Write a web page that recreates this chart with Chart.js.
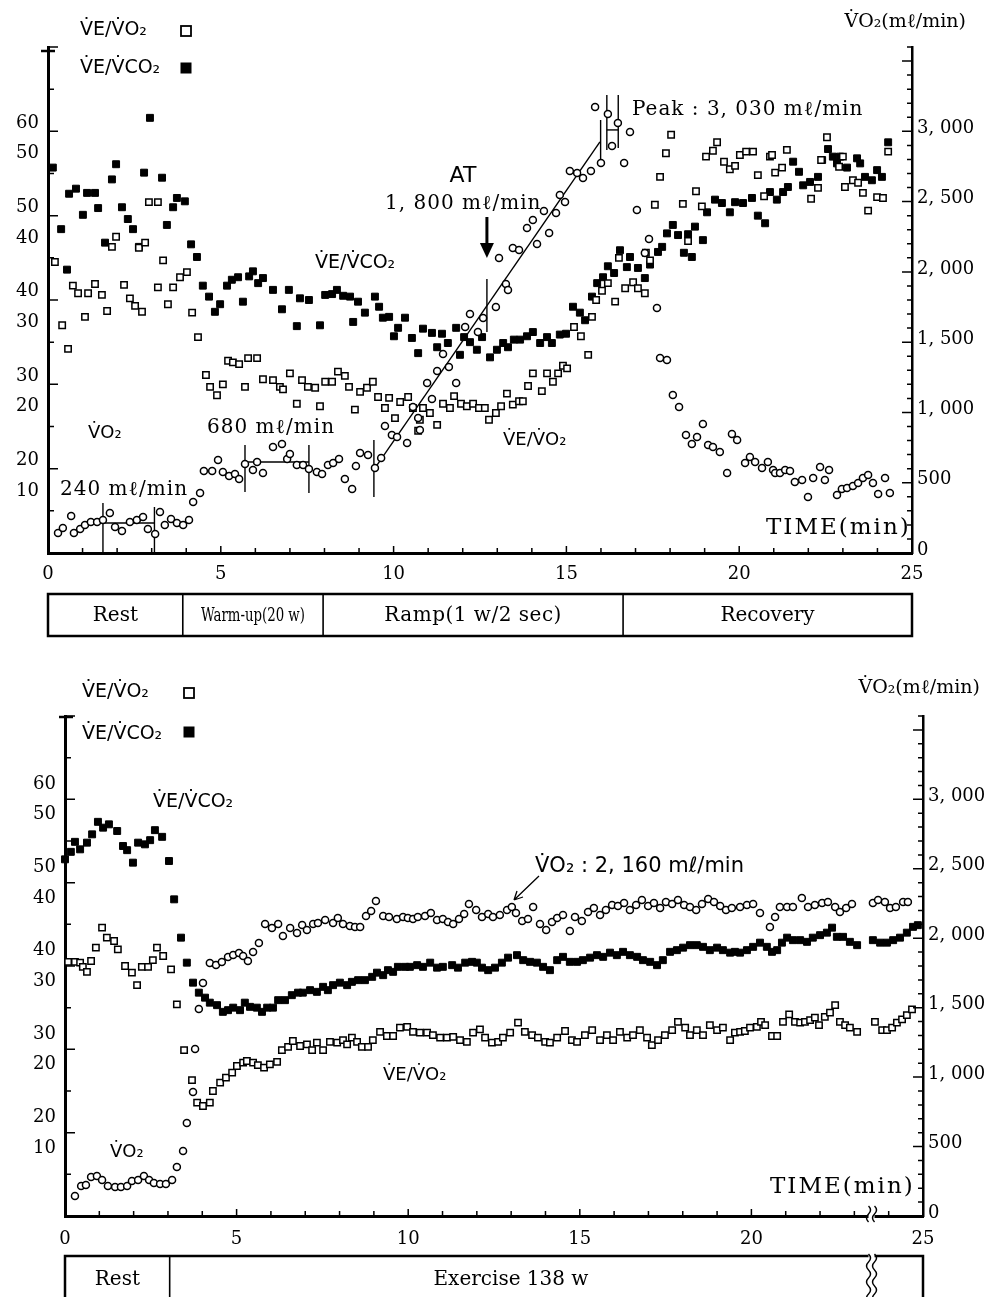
<!DOCTYPE html>
<html>
<head>
<meta charset="utf-8">
<title>VE/VO2, VE/VCO2 and VO2 during exercise</title>
<script src="https://cdn.jsdelivr.net/npm/chart.js@4.4.1/dist/chart.umd.min.js"></script>
<style>
  html, body { margin: 0; padding: 0; background: #fff; }
  #wrap { position: relative; width: 997px; height: 1297px; overflow: hidden; background: #fff; }
  canvas { position: absolute; left: 0; }
  #topChart { top: 0; }
  #bottomChart { top: 650px; }
</style>
</head>
<body>
<div id="wrap">
  <canvas id="topChart" width="997" height="650"></canvas>
  <canvas id="bottomChart" width="997" height="647"></canvas>
</div>
<script>
// ---- axis ticks ----
const timeTickValues = [0, 5, 10, 15, 20, 25];
const ratioTickValues = [10, 20, 30, 40, 50];              // VE/VO2 scale (lower number)
const ratioTickLabels = [['20', '10'], ['30', '20'], ['40', '30'], ['50', '40'], ['60', '50']]; // VE/VCO2 above, VE/VO2 below
const vo2TickValues = [0, 500, 1000, 1500, 2000, 2500, 3000];
const vo2TickLabels = ['0', '500', '1, 000', '1, 500', '2, 000', '2, 500', '3, 000'];

// ---- top panel: ramp test  [time min, value] ----
const topVo2 = [
  [0.29,142],[0.43,178],[0.67,263],[0.75,142],[0.93,171],[1.07,199],[1.24,221],[1.42,221],[1.59,235],[1.79,285],
  [1.94,185],[2.14,157],[2.37,221],[2.57,235],[2.75,256],[2.89,171],[3.10,135],[3.24,292],[3.38,199],[3.56,242],
  [3.73,213],[3.91,199],[4.08,235],[4.20,363],[4.40,427],[4.51,583],[4.75,583],[4.92,662],[5.06,576],[5.24,548],
  [5.41,562],[5.53,527],[5.70,633],[5.93,591],[6.05,647],[6.22,569],[6.51,754],[6.77,776],[6.92,669],[7.00,704],
  [7.20,626],[7.38,626],[7.55,598],[7.78,576],[7.93,562],[8.10,626],[8.25,640],[8.42,669],[8.59,527],[8.80,455],
  [8.91,619],[9.03,712],[9.26,697],[9.46,605],[9.64,676],[9.75,904],[9.95,840],[10.10,825],[10.39,783],[10.56,1039],
  [10.71,961],[10.76,875],[10.97,1210],[11.11,1096],[11.26,1295],[11.43,1416],[11.60,1323],[11.81,1210],[12.07,1608],[12.21,1700],
  [12.44,1572],[12.59,1672],[12.96,1750],[13.05,2099],[13.25,1914],[13.31,1871],[13.45,2170],[13.63,2156],[13.86,2312],[14.03,2369],
  [14.15,2199],[14.35,2433],[14.50,2277],[14.70,2419],[14.81,2547],[14.96,2497],[15.10,2718],[15.31,2704],[15.48,2668],[15.71,2718],
  [15.83,3173],[16.00,2775],[16.20,3123],[16.32,2896],[16.49,3059],[16.67,2775],[16.84,2995],[17.04,2440],[17.27,2135],[17.39,2234],
  [17.62,1743],[17.71,1387],[17.91,1373],[18.08,1124],[18.26,1039],[18.46,840],[18.63,776],[18.78,825],[18.95,918],[19.10,768],
  [19.24,754],[19.44,719],[19.65,569],[19.79,847],[19.94,804],[20.17,640],[20.31,683],[20.46,647],[20.66,605],[20.83,647],
  [20.98,591],[21.04,569],[21.18,569],[21.33,591],[21.47,583],[21.61,505],[21.82,519],[21.99,398],[22.14,534],[22.34,612],
  [22.48,519],[22.60,591],[22.83,413],[22.97,455],[23.12,462],[23.29,477],[23.44,498],[23.58,534],[23.73,555],[23.87,498],
  [24.02,420],[24.22,534],[24.36,427]
];
const topVeVo2 = [
  [0.20,34.5],[0.41,27.0],[0.58,24.2],[0.72,31.7],[0.87,30.8],[1.07,28.0],[1.16,30.8],[1.36,31.9],[1.56,30.6],[1.71,28.7],
  [1.85,36.3],[1.97,37.5],[2.20,31.8],[2.37,30.2],[2.52,29.3],[2.63,36.2],[2.72,28.6],[2.81,36.8],[2.92,41.6],[3.18,41.6],
  [3.18,31.5],[3.33,34.7],[3.47,29.5],[3.62,31.5],[3.82,32.7],[4.02,33.3],[4.17,28.5],[4.34,25.6],[4.57,21.1],[4.69,19.7],
  [4.89,18.7],[5.06,20.0],[5.21,22.8],[5.35,22.6],[5.53,22.4],[5.70,19.7],[5.79,23.1],[6.05,23.1],[6.22,20.6],[6.51,20.5],
  [6.71,19.7],[6.80,19.4],[7.00,21.3],[7.20,17.7],[7.35,20.5],[7.52,19.7],[7.73,19.6],[7.87,17.4],[8.02,20.3],[8.22,20.3],
  [8.39,21.5],[8.59,21.0],[8.71,19.7],[8.88,17.0],[9.03,19.1],[9.23,19.6],[9.40,20.3],[9.55,18.5],[9.75,17.2],[9.87,18.4],
  [10.04,16.0],[10.19,17.9],[10.42,18.5],[10.56,17.2],[10.71,14.5],[10.76,15.8],[10.85,17.2],[11.05,16.6],[11.26,15.2],[11.43,17.7],
  [11.63,17.2],[11.75,18.6],[11.95,17.7],[12.12,17.4],[12.30,17.7],[12.47,17.2],[12.64,17.2],[12.76,15.8],[12.96,16.6],[13.11,17.4],
  [13.28,18.9],[13.45,17.6],[13.63,18.0],[13.74,18.0],[13.89,19.8],[14.03,21.3],[14.29,19.2],[14.44,21.3],[14.61,20.3],[14.76,21.3],
  [14.90,22.2],[15.02,21.9],[15.22,26.8],[15.42,25.7],[15.63,23.5],[15.74,28.0],[15.86,30.0],[16.03,31.1],[16.20,32.0],[16.41,29.8],
  [16.52,35.0],[16.70,31.4],[16.93,32.1],[17.07,31.4],[17.27,30.8],[17.30,35.6],[17.42,34.7],[17.56,41.3],[17.71,44.6],[17.88,47.4],
  [18.03,49.6],[18.37,41.4],[18.52,37.0],[18.75,42.9],[18.92,41.1],[19.04,47.0],[19.24,47.7],[19.36,48.7],[19.56,46.4],[19.73,45.5],
  [19.88,45.9],[20.02,47.2],[20.20,47.6],[20.40,47.6],[20.54,44.8],[20.72,42.3],[20.89,47.0],[20.95,47.2],[21.04,45.1],[21.24,45.7],
  [21.38,47.8],[22.08,42.0],[22.28,43.3],[22.37,46.6],[22.54,49.3],[22.89,45.8],[23.00,47.0],[23.06,43.4],[23.29,44.2],[23.44,43.9],
  [23.58,42.7],[23.73,40.6],[23.99,42.2],[24.16,42.1],[24.31,47.6]
];
const topVeVco2 = [
  [0.14,55.7],[0.38,48.4],[0.55,43.6],[0.61,52.6],[0.81,53.2],[1.01,50.1],[1.13,52.7],[1.36,52.7],[1.45,50.9],[1.65,46.8],
  [1.85,54.3],[1.97,56.1],[2.14,51.0],[2.31,49.6],[2.46,48.4],[2.63,46.3],[2.78,55.1],[2.95,61.6],[3.30,54.5],[3.44,48.9],
  [3.62,51.0],[3.73,52.1],[3.96,51.7],[4.14,46.6],[4.31,45.1],[4.48,41.7],[4.66,40.4],[4.83,38.6],[4.98,39.5],[5.18,41.7],
  [5.32,42.4],[5.50,42.7],[5.64,39.8],[5.82,42.8],[5.93,43.4],[6.08,42.0],[6.22,42.6],[6.51,41.2],[6.77,38.9],[6.97,41.2],
  [7.20,36.9],[7.29,40.2],[7.55,40.0],[7.87,37.0],[8.02,40.6],[8.22,40.7],[8.36,41.2],[8.54,40.5],[8.74,40.4],[8.83,37.4],
  [8.97,39.8],[9.17,38.5],[9.46,40.4],[9.58,39.2],[9.69,37.9],[9.87,38.0],[10.01,35.7],[10.13,36.7],[10.33,37.9],[10.53,35.5],
  [10.71,33.7],[10.85,36.6],[11.11,36.1],[11.26,34.4],[11.40,36.0],[11.57,34.9],[11.81,36.7],[11.92,33.5],[12.04,35.6],[12.21,35.0],
  [12.41,34.1],[12.56,35.6],[12.79,33.2],[12.99,34.1],[13.17,34.9],[13.31,34.4],[13.48,35.3],[13.66,35.3],[13.86,35.7],[14.03,36.2],
  [14.24,34.9],[14.44,35.6],[14.58,34.9],[14.81,35.9],[14.99,36.0],[15.19,39.2],[15.39,38.5],[15.54,37.6],[15.74,40.4],[15.89,42.0],
  [16.06,42.7],[16.20,44.0],[16.38,43.2],[16.55,45.9],[16.75,43.9],[16.84,45.1],[17.07,43.8],[17.27,42.6],[17.42,44.2],[17.65,45.7],
  [17.77,46.3],[17.91,47.9],[18.08,48.9],[18.23,47.7],[18.40,45.6],[18.52,47.8],[18.63,45.1],[18.72,48.7],[18.95,47.1],[19.07,50.4],
  [19.30,51.9],[19.50,51.5],[19.73,50.4],[19.88,51.6],[20.11,51.5],[20.37,52.1],[20.54,50.0],[20.75,49.1],[20.89,52.8],[21.09,51.9],
  [21.27,52.8],[21.41,53.4],[21.56,56.4],[21.73,55.2],[21.85,53.6],[22.05,54.0],[22.28,54.6],[22.40,56.6],[22.57,57.9],[22.71,57.0],
  [22.83,56.2],[22.92,57.0],[23.12,55.7],[23.41,56.8],[23.50,56.2],[23.64,54.6],[23.84,54.2],[23.99,55.4],[24.13,54.6],[24.31,58.7]
];
// regression line through the ramp VO2, and the hand-drawn averaging marks (time, VO2)
const topFitLine = [[9.45, 600], [15.97, 2925]];
const topMarkers = [
  [[1.59, 356], [1.59, 0]], [[3.08, 327], [3.08, 0]], [[1.59, 213], [3.08, 213]],
  [[5.70, 768], [5.70, 434]], [[5.70, 647], [7.55, 647]], [[7.55, 768], [7.55, 427]],
  [[9.43, 804], [9.43, 398]], [[12.70, 1950], [12.70, 1572]],
  [[15.99, 3081], [15.99, 2761]], [[16.17, 3259], [16.17, 2867]], [[16.50, 3259], [16.50, 2881]],
  [[16.17, 3010], [16.50, 3010]]
];
const topPhaseEdges = [0, 3.9, 7.96, 16.64, 25];
const topPhaseLabels = ['Rest', 'Warm-up(20 w)', 'Ramp(1 w/2 sec)', 'Recovery'];

// ---- bottom panel: constant load 138 w ----
const bottomVo2 = [
  [0.29,144],[0.47,216],[0.61,223],[0.76,281],[0.93,288],[1.08,259],[1.25,216],[1.46,209],[1.63,209],[1.81,216],
  [1.95,252],[2.13,259],[2.30,288],[2.45,259],[2.59,238],[2.77,230],[2.94,230],[3.12,259],[3.26,353],[3.44,468],
  [3.55,670],[3.73,893],[3.79,1202],[3.90,1490],[4.02,1678],[4.22,1822],[4.40,1807],[4.57,1829],[4.75,1865],[4.90,1879],
  [5.07,1894],[5.19,1872],[5.33,1836],[5.48,1901],[5.65,1966],[5.83,2102],[6.03,2074],[6.21,2102],[6.35,2016],[6.56,2074],
  [6.76,2038],[6.91,2095],[7.05,2059],[7.23,2102],[7.37,2110],[7.58,2131],[7.81,2110],[7.95,2146],[8.10,2102],[8.30,2088],
  [8.45,2081],[8.60,2081],[8.77,2160],[8.92,2196],[9.06,2268],[9.27,2160],[9.44,2153],[9.67,2138],[9.85,2153],[9.99,2146],
  [10.14,2138],[10.28,2153],[10.49,2160],[10.66,2182],[10.84,2131],[11.01,2138],[11.16,2117],[11.31,2102],[11.48,2138],[11.63,2174],
  [11.77,2246],[11.98,2203],[12.15,2153],[12.33,2174],[12.47,2153],[12.67,2167],[12.88,2203],[13.02,2225],[13.14,2182],[13.32,2124],
  [13.49,2138],[13.64,2225],[13.84,2102],[14.02,2059],[14.19,2117],[14.34,2146],[14.51,2167],[14.71,2052],[14.86,2153],[15.06,2124],
  [15.24,2189],[15.41,2218],[15.59,2167],[15.76,2203],[15.94,2239],[16.11,2232],[16.29,2254],[16.46,2203],[16.64,2239],[16.81,2275],
  [16.99,2232],[17.16,2254],[17.34,2218],[17.51,2261],[17.69,2246],[17.86,2275],[18.04,2239],[18.21,2225],[18.39,2203],[18.56,2246],
  [18.74,2282],[18.91,2261],[19.09,2232],[19.26,2203],[19.43,2218],[19.67,2225],[19.87,2239],[20.05,2246],[20.25,2182],[20.54,2081],
  [20.69,2153],[20.83,2225],[21.04,2225],[21.21,2225],[21.47,2290],[21.65,2225],[21.85,2239],[22.06,2254],[22.23,2261],[22.44,2225],
  [22.58,2189],[22.76,2218],[22.93,2246],[23.54,2254],[23.69,2275],[23.89,2261],[24.04,2218],[24.21,2225],[24.42,2261],[24.56,2261]
];
const bottomVeVo2 = [
  [0.09,30.5],[0.29,30.5],[0.44,30.4],[0.52,29.9],[0.64,29.3],[0.76,30.6],[0.90,32.2],[1.08,34.6],[1.22,33.4],[1.43,33.0],
  [1.54,32.0],[1.75,30.0],[1.95,29.2],[2.10,27.7],[2.24,29.9],[2.42,29.9],[2.56,30.7],[2.68,32.2],[2.86,31.2],[3.09,29.6],
  [3.26,25.4],[3.47,19.9],[3.70,16.3],[3.85,13.6],[4.02,13.2],[4.22,13.6],[4.31,15.0],[4.52,16.0],[4.69,16.6],[4.87,17.2],
  [5.01,18.0],[5.19,18.4],[5.30,18.6],[5.48,18.4],[5.62,18.1],[5.80,17.8],[5.97,18.2],[6.18,18.5],[6.32,19.9],[6.50,20.3],
  [6.64,21.0],[6.85,20.4],[7.05,20.6],[7.20,19.9],[7.34,20.8],[7.52,19.9],[7.72,20.9],[7.93,20.8],[8.10,21.1],[8.22,20.6],
  [8.36,21.4],[8.51,20.9],[8.65,20.3],[8.83,20.3],[8.97,21.1],[9.18,22.1],[9.38,21.6],[9.56,21.6],[9.76,22.6],[9.97,22.7],
  [10.14,22.1],[10.34,22.0],[10.55,22.0],[10.72,21.7],[10.93,21.4],[11.13,21.4],[11.31,21.5],[11.51,21.1],[11.71,20.9],[11.89,22.0],
  [12.09,22.4],[12.24,21.4],[12.44,20.8],[12.62,20.9],[12.76,21.4],[12.97,22.0],[13.20,23.2],[13.40,22.1],[13.61,21.7],[13.78,21.4],
  [13.99,20.9],[14.13,20.8],[14.34,21.4],[14.57,22.2],[14.77,21.1],[14.92,20.9],[15.15,21.7],[15.36,22.3],[15.59,21.1],[15.79,21.7],
  [15.97,21.1],[16.17,22.1],[16.38,21.4],[16.55,21.7],[16.75,22.3],[16.96,21.4],[17.10,20.5],[17.28,21.1],[17.48,21.7],[17.69,22.3],
  [17.86,23.3],[18.07,22.6],[18.21,21.7],[18.41,22.3],[18.59,21.7],[18.79,22.9],[19.00,22.3],[19.17,22.6],[19.38,21.1],[19.52,22.0],
  [19.67,22.1],[19.81,22.2],[19.96,22.6],[20.16,22.7],[20.28,23.3],[20.40,22.9],[20.60,21.6],[20.75,21.6],[20.92,23.3],[21.10,24.2],
  [21.27,23.3],[21.42,23.2],[21.56,23.3],[21.71,23.5],[21.85,23.8],[21.97,22.9],[22.14,23.9],[22.29,24.4],[22.44,25.3],[22.58,23.3],
  [22.73,22.9],[22.87,22.6],[23.08,22.1],[23.60,23.3],[23.81,22.3],[23.95,22.3],[24.10,22.6],[24.24,23.2],[24.39,23.6],[24.53,24.1],
  [24.68,24.8]
];
const bottomVeVco2 = [
  [0.00,52.8],[0.17,53.7],[0.29,54.9],[0.44,54.0],[0.64,54.8],[0.79,55.8],[0.96,57.3],[1.11,56.6],[1.28,57.0],[1.52,56.2],
  [1.69,54.4],[1.81,53.9],[1.98,52.4],[2.13,54.8],[2.33,54.6],[2.48,55.1],[2.62,56.3],[2.83,55.5],[3.03,52.6],[3.18,48.0],
  [3.38,43.4],[3.55,40.4],[3.73,38.0],[3.90,36.8],[4.08,36.2],[4.22,35.6],[4.43,35.3],[4.60,34.5],[4.75,34.7],[4.90,35.0],
  [5.10,34.7],[5.24,35.6],[5.39,35.1],[5.59,35.0],[5.74,34.5],[5.89,35.0],[6.06,35.0],[6.21,35.9],[6.41,35.9],[6.61,36.5],
  [6.79,36.8],[6.93,36.8],[7.14,37.1],[7.34,36.9],[7.52,37.5],[7.66,37.1],[7.81,37.7],[8.01,38.0],[8.22,37.7],[8.36,38.1],
  [8.54,38.3],[8.74,38.3],[8.95,38.7],[9.09,39.2],[9.27,38.9],[9.41,39.5],[9.56,39.3],[9.70,39.9],[9.91,39.9],[10.05,39.9],
  [10.26,40.1],[10.43,39.9],[10.64,40.4],[10.84,39.8],[11.01,39.9],[11.28,40.1],[11.45,39.8],[11.66,40.4],[11.86,40.5],[12.00,40.4],
  [12.15,39.8],[12.33,39.5],[12.53,39.8],[12.73,40.4],[12.91,41.0],[13.17,41.3],[13.35,40.7],[13.55,40.5],[13.75,40.4],[13.93,39.9],
  [14.13,39.5],[14.34,40.7],[14.51,41.1],[14.71,40.5],[14.92,40.5],[15.09,40.7],[15.30,41.0],[15.50,41.3],[15.68,41.1],[15.88,41.6],
  [16.08,41.3],[16.26,41.7],[16.46,41.3],[16.67,41.1],[16.84,40.7],[17.05,40.5],[17.25,40.1],[17.42,40.7],[17.63,41.7],[17.83,41.9],
  [18.01,42.2],[18.21,42.5],[18.41,42.5],[18.59,42.3],[18.79,41.9],[19.00,42.2],[19.17,41.9],[19.38,41.6],[19.52,41.7],[19.67,41.6],
  [19.87,41.9],[20.05,42.3],[20.25,42.8],[20.45,42.3],[20.60,41.7],[20.75,41.9],[20.89,42.8],[21.04,43.4],[21.21,43.1],[21.42,43.1],
  [21.62,42.9],[21.79,43.4],[22.00,43.7],[22.20,44.0],[22.35,44.6],[22.49,43.5],[22.67,43.5],[22.87,42.9],[23.08,42.5],[23.54,43.1],
  [23.75,42.8],[23.95,42.8],[24.13,43.1],[24.33,43.4],[24.53,44.0],[24.71,44.7],[24.85,44.9]
];
const bottomPhaseEdges = [0, 3.05, 25];
const bottomPhaseLabels = ['Rest', 'Exercise 138 w'];
const bottomBreakTime = 23.5;

// ---- drawing helpers ----
const SERIF = '"DejaVu Serif", "Liberation Serif", serif';
const SANS = '"DejaVu Sans", "Liberation Sans", sans-serif';
const VE_VO2 = 'V\u0307E/V\u0307O\u2082';
const VE_VCO2 = 'V\u0307E/V\u0307CO\u2082';
const VO2 = 'V\u0307O\u2082';

function toXY(list) {
  return list.map(p => ({ x: p[0], y: p[1] }));
}

function pointSet(list, axis, kind) {
  const base = { data: toXY(list), yAxisID: axis, showLine: false, clip: false, borderColor: '#000' };
  if (kind === 'circle') return Object.assign(base, { pointStyle: 'circle', pointRadius: 3.5, borderWidth: 1.5, backgroundColor: '#fff' });
  if (kind === 'open') return Object.assign(base, { pointStyle: 'rect', pointRadius: 4.5, borderWidth: 1.5, backgroundColor: '#fff' });
  return Object.assign(base, { pointStyle: 'rect', pointRadius: 4.9, borderWidth: 1, backgroundColor: '#000' });
}

function lineSet(list, width) {
  return { data: toXY(list), yAxisID: 'yR', showLine: true, clip: false, pointRadius: 0,
           borderColor: '#000', borderWidth: width, backgroundColor: '#000' };
}

function text(ctx, s, x, y, size, family, o = {}) {
  ctx.save();
  ctx.font = `${size}px ${family}`;
  ctx.fillStyle = '#000';
  ctx.textAlign = o.align || 'left';
  ctx.textBaseline = 'middle';
  if (o.spacing) ctx.letterSpacing = `${o.spacing}px`;
  ctx.translate(x, y);
  if (o.squeeze) ctx.scale(o.squeeze, 1);
  ctx.fillText(s, 0, 0);
  ctx.restore();
}

function legendBox(ctx, x, y, filled) {
  ctx.save();
  ctx.lineWidth = 1.8;
  ctx.strokeStyle = '#000';
  ctx.fillStyle = '#000';
  if (filled) ctx.fillRect(x - 5.5, y - 5.5, 11, 11);
  else ctx.strokeRect(x - 5, y - 5, 10, 10);
  ctx.restore();
}

function seg(ctx, x1, y1, x2, y2, w) {
  ctx.save();
  ctx.strokeStyle = '#000';
  ctx.lineWidth = w;
  ctx.beginPath();
  ctx.moveTo(x1, y1);
  ctx.lineTo(x2, y2);
  ctx.stroke();
  ctx.restore();
}

function squiggle(ctx, x, y0, y1) {
  ctx.save();
  ctx.strokeStyle = '#000';
  ctx.lineWidth = 1.4;
  ctx.beginPath();
  ctx.moveTo(x, y0);
  let y = y0, s = 1;
  while (y < y1) {
    ctx.quadraticCurveTo(x + 4 * s, y + 4, x, y + 8);
    y += 8;
    s = -s;
  }
  ctx.stroke();
  ctx.restore();
}

function phaseBar(ctx, xs, edges, names, top, bottom, textY, fonts) {
  const px = edges.map(e => xs.getPixelForValue(e));
  ctx.save();
  ctx.strokeStyle = '#000';
  ctx.lineWidth = 2.5;
  ctx.strokeRect(px[0], top, px[px.length - 1] - px[0], bottom - top);
  ctx.lineWidth = 1.6;
  ctx.beginPath();
  for (let i = 1; i < px.length - 1; i++) {
    ctx.moveTo(px[i], top);
    ctx.lineTo(px[i], bottom);
  }
  ctx.stroke();
  ctx.restore();
  names.forEach((n, i) => {
    const f = fonts[i] || {};
    const cx = f.cx !== undefined ? f.cx : (px[i] + px[i + 1]) / 2;
    text(ctx, n, cx, textY, f.size || 20, SERIF, { align: 'center', squeeze: f.squeeze, spacing: f.spacing });
  });
}

// tick marks point into the plot on every axis
const inwardTicks = {
  id: 'inwardTicks',
  afterDraw(chart) {
    const { ctx, chartArea: a, scales } = chart;
    ctx.save();
    ctx.strokeStyle = '#000';
    ctx.lineWidth = 1.5;
    ctx.beginPath();
    scales.x.ticks.forEach(t => {
      const px = scales.x.getPixelForValue(t.value);
      const len = t.value % 5 === 0 ? 7 : 5;
      ctx.moveTo(px, a.bottom);
      ctx.lineTo(px, a.bottom - len);
    });
    scales.y.ticks.forEach(t => {
      const py = scales.y.getPixelForValue(t.value);
      const len = t.value % 10 === 0 ? 10 : 6;
      ctx.moveTo(a.left, py);
      ctx.lineTo(a.left + len, py);
    });
    scales.yR.ticks.forEach(t => {
      const py = scales.yR.getPixelForValue(t.value);
      const len = t.value % 500 === 0 ? 10 : 5;
      ctx.moveTo(a.right, py);
      ctx.lineTo(a.right - len, py);
    });
    ctx.stroke();
    ctx.restore();
  }
};

function scalesFor(lay) {
  const tickFont = { family: SERIF, size: 18, lineHeight: 1.7 };
  return {
    x: {
      type: 'linear', min: 0, max: 25,
      border: { display: true, color: '#000', width: 3 },
      grid: { drawOnChartArea: false, drawTicks: false },
      ticks: {
        stepSize: 1, autoSkip: false, maxRotation: 0, padding: lay.xPad, color: '#000', font: tickFont,
        callback: v => (timeTickValues.includes(v) ? String(v) : '')
      },
      afterFit: s => { s.height = lay.xHeight; }
    },
    y: {
      type: 'linear', position: 'left', min: 0, max: 60,
      border: { display: true, color: '#000', width: 3 },
      grid: { drawOnChartArea: false, drawTicks: false },
      ticks: {
        stepSize: 5, autoSkip: false, padding: 9, labelOffset: lay.leftOffset, color: '#000', font: tickFont,
        callback: v => { const i = ratioTickValues.indexOf(v); return i < 0 ? '' : ratioTickLabels[i]; }
      },
      afterFit: s => { s.width = lay.leftWidth; }
    },
    yC: { type: 'linear', display: false, min: 10, max: 70 },
    yR: {
      type: 'linear', position: 'right', min: 0, max: 3600,
      border: { display: true, color: '#000', width: 2.5 },
      grid: { drawOnChartArea: false, drawTicks: false },
      ticks: {
        stepSize: 100, autoSkip: false, padding: 5, labelOffset: -3, color: '#000', font: { family: SERIF, size: 18 },
        callback: v => { const i = vo2TickValues.indexOf(v); return i < 0 ? '' : vo2TickLabels[i]; }
      },
      afterFit: s => { s.width = lay.rightWidth; }
    }
  };
}

function buildChart(id, datasets, lay, decorDraw) {
  return new Chart(document.getElementById(id), {
    type: 'scatter',
    data: { datasets },
    options: {
      responsive: false,
      animation: false,
      events: [],
      layout: { padding: { top: lay.top, left: 0, right: 0, bottom: 0 } },
      plugins: { legend: { display: false }, tooltip: { enabled: false } },
      scales: scalesFor(lay)
    },
    plugins: [inwardTicks, { id: 'decor', afterDraw: decorDraw }]
  });
}

// ---- top panel ----
function drawTopDecor(chart) {
  const { ctx, chartArea: a, scales: { x } } = chart;
  seg(ctx, a.left - 7, a.top + 4, a.left + 7, a.top + 4, 2.5);
  text(ctx, VE_VO2, 80, 30, 19, SANS);
  legendBox(ctx, 186, 31, false);
  text(ctx, VE_VCO2, 80, 68, 19, SANS);
  legendBox(ctx, 186, 68, true);
  text(ctx, VO2 + '(m\u2113/min)', 966, 22, 19, SERIF, { align: 'right' });
  text(ctx, 'Peak : 3, 030 m\u2113/min', 632, 110, 20, SERIF, { spacing: 1 });
  text(ctx, 'AT', 463, 176, 22, SANS, { align: 'center' });
  text(ctx, '1, 800 m\u2113/min', 385, 204, 20, SERIF, { spacing: 1 });
  // AT arrow
  const ax = x.getPixelForValue(12.7);
  seg(ctx, ax, 217, ax, 247, 3);
  ctx.save();
  ctx.fillStyle = '#000';
  ctx.beginPath();
  ctx.moveTo(ax - 7, 243); ctx.lineTo(ax + 7, 243); ctx.lineTo(ax, 258); ctx.closePath();
  ctx.fill();
  ctx.restore();
  text(ctx, VE_VCO2, 315, 263, 19, SANS);
  text(ctx, VO2, 88, 433, 18, SANS);
  text(ctx, '680 m\u2113/min', 207, 428, 20, SERIF, { spacing: 1 });
  text(ctx, '240 m\u2113/min', 60, 490, 20, SERIF, { spacing: 1 });
  text(ctx, VE_VO2, 503, 440, 18, SANS);
  text(ctx, 'TIME(min)', 766, 528, 23, SERIF, { spacing: 2 });
  phaseBar(ctx, x, topPhaseEdges, topPhaseLabels, 594, 636, 616,
    [{}, { size: 18, squeeze: 0.74 }, { spacing: 0.5 }, {}]);
}

const topSets = [
  pointSet(topVo2, 'yR', 'circle'),
  pointSet(topVeVo2, 'y', 'open'),
  pointSet(topVeVco2, 'yC', 'filled'),
  lineSet(topFitLine, 1.4)
].concat(topMarkers.map(m => lineSet(m, 1.4)));

buildChart('topChart', topSets,
  { top: 47, leftWidth: 48, rightWidth: 85, xHeight: 97, xPad: 6, leftOffset: 7 }, drawTopDecor);

// ---- bottom panel ----
function drawBottomDecor(chart) {
  const { ctx, chartArea: a, scales: { x } } = chart;
  seg(ctx, a.left - 6, a.top + 1, a.left + 8, a.top + 1, 2.5);
  text(ctx, VE_VO2, 82, 42, 19, SANS);
  legendBox(ctx, 189, 43, false);
  text(ctx, VE_VCO2, 82, 84, 19, SANS);
  legendBox(ctx, 189, 82, true);
  text(ctx, VO2 + '(m\u2113/min)', 980, 38, 19, SERIF, { align: 'right' });
  text(ctx, VE_VCO2, 153, 152, 19, SANS);
  text(ctx, VO2 + ' : 2, 160 m\u2113/min', 535, 217, 21, SANS);
  // pointer to the VO2 series
  ctx.save();
  ctx.strokeStyle = '#000';
  ctx.lineWidth = 1.3;
  ctx.beginPath();
  ctx.moveTo(539, 226); ctx.lineTo(514, 250);
  ctx.moveTo(514, 250); ctx.lineTo(517, 241);
  ctx.moveTo(514, 250); ctx.lineTo(523, 247);
  ctx.stroke();
  ctx.restore();
  text(ctx, VO2, 110, 502, 18, SANS);
  text(ctx, VE_VO2, 383, 425, 18, SANS);
  text(ctx, 'TIME(min)', 770, 537, 23, SERIF, { spacing: 2 });
  // axis break on the time axis
  const bx = x.getPixelForValue(bottomBreakTime);
  ctx.save();
  ctx.fillStyle = '#fff';
  ctx.fillRect(bx - 3, a.bottom - 3, 6, 6);
  ctx.restore();
  squiggle(ctx, bx - 3, a.bottom - 10, a.bottom + 3);
  squiggle(ctx, bx + 3, a.bottom - 10, a.bottom + 3);
  phaseBar(ctx, x, bottomPhaseEdges, bottomPhaseLabels, 606, 670, 630,
    [{ size: 20 }, { size: 20, cx: 511 }]);
  ctx.save();
  ctx.fillStyle = '#fff';
  ctx.fillRect(bx - 3, 603, 6, 6);
  ctx.restore();
  squiggle(ctx, bx - 3, 604, 650);
  squiggle(ctx, bx + 3, 604, 650);
}

const bottomSets = [
  pointSet(bottomVo2, 'yR', 'circle'),
  pointSet(bottomVeVo2, 'y', 'open'),
  pointSet(bottomVeVco2, 'yC', 'filled')
];

buildChart('bottomChart', bottomSets,
  { top: 66, leftWidth: 65, rightWidth: 74, xHeight: 81, xPad: 8, leftOffset: 0 }, drawBottomDecor);
</script>
</body>
</html>
